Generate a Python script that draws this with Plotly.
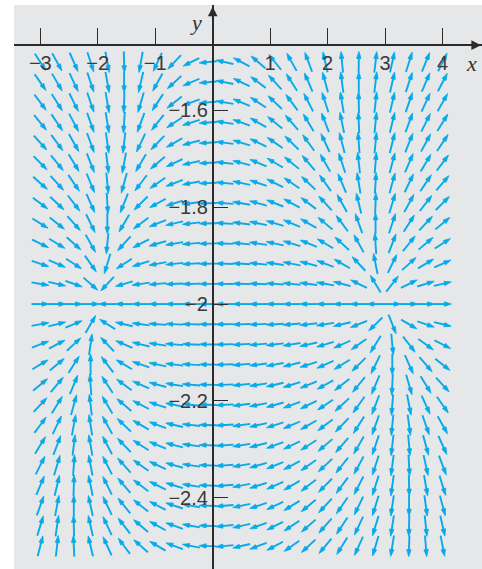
import numpy as np
import plotly.graph_objects as go

# sample grid of the direction field (25 x 25)
x_pts = [-3.0, -2.7083, -2.4167, -2.125, -1.8333, -1.5417, -1.25, -0.9583,
         -0.6667, -0.375, -0.0833, 0.2083, 0.5, 0.7917, 1.0833, 1.375,
         1.6667, 1.9583, 2.25, 2.5417, 2.8333, 3.125, 3.4167, 3.7083, 4.0]
y_pts = [-2.5, -2.4583, -2.4167, -2.375, -2.3333, -2.2917, -2.25, -2.2083,
         -2.1667, -2.125, -2.0833, -2.0417, -2.0, -1.9583, -1.9167, -1.875,
         -1.8333, -1.7917, -1.75, -1.7083, -1.6667, -1.625, -1.5833, -1.5417, -1.5]

# tick labels
x_ticks = [-3, -2, -1, 1, 2, 3, 4]
x_ticktext = ['\u22123', '\u22122', '\u22121', '1', '2', '3', '4']
y_ticks = [-1.6, -1.8, -2.0, -2.2, -2.4]
y_ticktext = ['\u22121.6', '\u22121.8', '\u22122', '\u22122.2', '\u22122.4']


# system: dx/dt = -(x - y)(1 - x - y), dy/dt = x(2 + y)
def field(x, y):
    return -(x - y) * (1 - x - y), x * (2 + y)


W, H = 482, 569
ml, mt = 14, 5
pw, ph = W - ml, H - mt
xr = [-3.4574, 4.6859]
yr = [-2.5475, -1.382]
sx = pw / (xr[1] - xr[0])
sy = ph / (yr[1] - yr[0])

hx = x_pts[1] - x_pts[0]
hy = y_pts[1] - y_pts[0]
L = 1.05
head_len, head_w = 7.0, 2.2

shaft_x, shaft_y, head_x, head_y = [], [], [], []
for yv in y_pts:
    for xv in x_pts:
        u, v = field(xv, yv)
        gu, gv = u / hx, v / hy
        n = np.hypot(gu, gv)
        if n == 0:
            continue
        dxd = 0.5 * L * gu / n * hx
        dyd = 0.5 * L * gv / n * hy
        tx, ty = xv - dxd, yv - dyd
        px, py = xv + dxd, yv + dyd
        ex, ey = dxd * sx, dyd * sy
        m = np.hypot(ex, ey)
        ex, ey = ex / m, ey / m
        bx, by = px - head_len * ex / sx, py - head_len * ey / sy
        lx, ly = bx - head_w * ey / sx, by + head_w * ex / sy
        rx, ry = bx + head_w * ey / sx, by - head_w * ex / sy
        shaft_x += [tx, bx + 1.5 * ex / sx, None]
        shaft_y += [ty, by + 1.5 * ey / sy, None]
        head_x += [px, lx, rx, px, None]
        head_y += [py, ly, ry, py, None]

blue = '#08aae9'
fig = go.Figure()
fig.add_trace(go.Scatter(x=shaft_x, y=shaft_y, mode='lines',
                         line=dict(color=blue, width=1.9),
                         hoverinfo='skip', showlegend=False))
fig.add_trace(go.Scatter(x=head_x, y=head_y, mode='lines', fill='toself',
                         fillcolor=blue, line=dict(color=blue, width=0.8),
                         hoverinfo='skip', showlegend=False))

ax_y = -1.465
axis_col = '#2b2b2b'
tick_font = dict(family='Liberation Sans, Arial, sans-serif', size=20, color='#3a3a3a')

fig.update_layout(
    width=W, height=H,
    margin=dict(l=ml, r=0, t=mt, b=0),
    paper_bgcolor='white', plot_bgcolor='#e6e7e9',
    xaxis=dict(range=xr, showgrid=False, zeroline=False, automargin=False,
               anchor='free', position=(ax_y - yr[0]) / (yr[1] - yr[0]),
               showline=True, linecolor=axis_col, linewidth=1.6,
               ticks='inside', ticklen=16, tickwidth=1.2, tickcolor=axis_col,
               tickvals=x_ticks, ticktext=x_ticktext, tickfont=tick_font),
    yaxis=dict(range=yr, showgrid=False, zeroline=False, automargin=False,
               anchor='free', position=(0 - xr[0]) / (xr[1] - xr[0]),
               showline=True, linecolor=axis_col, linewidth=1.6,
               ticks='inside', ticklen=15, tickwidth=1.2, tickcolor=axis_col,
               tickvals=y_ticks, ticktext=y_ticktext, tickfont=tick_font),
)

# arrowheads on the axes and axis names
fig.add_annotation(x=1, xref='paper', y=ax_y, yref='y', ax=-14, ay=0,
                   showarrow=True, arrowhead=2, arrowsize=1.2, arrowwidth=1.6,
                   arrowcolor=axis_col, text='')
fig.add_annotation(x=0, xref='x', y=0.997, yref='paper', ax=0, ay=14,
                   showarrow=True, arrowhead=2, arrowsize=1.2, arrowwidth=1.6,
                   arrowcolor=axis_col, text='')
fig.add_annotation(x=0, xref='x', y=0.995, yref='paper', xanchor='right', yanchor='top',
                   xshift=-9, text='<i>y</i>', showarrow=False,
                   font=dict(family='Liberation Serif, serif', size=22, color='#333'))
fig.add_annotation(x=0.9765, xref='paper', y=ax_y, yref='y', xanchor='center', yanchor='top',
                   yshift=-4, text='<i>x</i>', showarrow=False,
                   font=dict(family='Liberation Serif, serif', size=22, color='#333'))

# the page's default body margin would shift the figure
fig.write_html("out.html", config={'displayModeBar': False},
               post_script="document.body.style.margin='0';document.body.style.overflow='hidden';")
